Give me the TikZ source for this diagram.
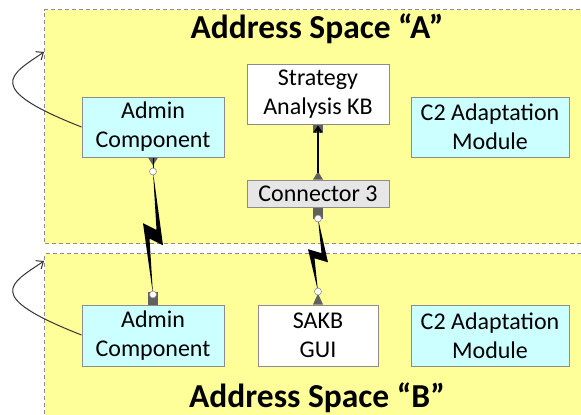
\documentclass[tikz,border=0pt]{standalone}
\usepackage{fontspec}
\setmainfont{Carlito}
\usetikzlibrary{calc,arrows.meta}

\definecolor{spaceyellow}{HTML}{FFFF99}
\definecolor{compcyan}{HTML}{CCFFFF}
\definecolor{conngray}{HTML}{E6E6E6}
\definecolor{portgray}{HTML}{606060}
\definecolor{edgegray}{HTML}{8C8C8C}

% lightning bolt between two port points
\newcommand{\bolt}[2]{%
    \fill[black] (#1) -- ($(#1)!0.6!(#2)+(10,0)$) -- ($(#1)!0.545!(#2)+(-3.5,0)$)
        -- (#2) -- ($(#1)!0.42!(#2)+(-10,0)$) -- ($(#1)!0.475!(#2)+(3.5,0)$) -- cycle;
}

\begin{document}
\begin{tikzpicture}[x=1pt, y=-1pt,
        box/.style={rectangle, draw=edgegray, line width=1pt, align=center, inner sep=0pt,
            font=\fontsize{24}{29}\selectfont},
        comp/.style={box, fill=compcyan},
        addrspace/.style={rectangle, draw=edgegray, line width=1pt, dash pattern=on 4pt off 3pt,
            fill=spaceyellow, anchor=north west},
        title/.style={anchor=base, font=\fontsize{33.5}{38}\selectfont\bfseries},
        dot/.style={circle, draw=edgegray, fill=white, line width=0.6pt, inner sep=0pt, minimum size=7pt},
        loop/.style={line width=1pt, draw=black!80, -{Straight Barb[length=6pt, width=10pt]}}]

    \useasboundingbox (0,0) rectangle (581,415);
    \clip (0,0) rectangle (581,415);

    \node[addrspace, minimum width=560pt, minimum height=234pt] (spaceA) at (44,9) {};
    \node[addrspace, minimum width=560pt, minimum height=180pt] (spaceB) at (44,253) {};

    \node[title] (titleA) at (317,38) {Address Space “A”};
    \node[title] (titleB) at (317,407) {Address Space “B”};

    \node[comp, minimum width=142pt, minimum height=60pt] (adminA) at (153,127) {Admin\\Component};
    \node[box, fill=white, minimum width=142pt, minimum height=60pt] (kb) at (318,94) {Strategy\\Analysis KB};
    \node[comp, minimum width=158pt, minimum height=60pt] (c2A) at (490,127) {C2 Adaptation\\Module};
    \node[box, fill=conngray, minimum width=142pt, minimum height=27pt] (conn3) at (318,193.5) {Connector 3};

    \node[comp, minimum width=142pt, minimum height=61pt] (adminB) at (153,335.5) {Admin\\Component};
    \node[box, fill=white, minimum width=120pt, minimum height=61pt] (gui) at (318,335.5) {SAKB\\GUI};
    \node[comp, minimum width=158pt, minimum height=61pt] (c2B) at (490,335.5) {C2 Adaptation\\Module};

    % ports
    \fill[portgray] ($(adminA.south)+(-5,0)$) -- ($(adminA.south)+(5,0)$) -- ($(adminA.south)+(0,8)$) -- cycle;
    \fill[portgray] ($(adminB.north)+(-5,0)$) rectangle ($(adminB.north)+(5,-13)$);
    \fill[portgray] ($(conn3.south)+(-5,0)$) rectangle ($(conn3.south)+(5,11)$);
    \fill[portgray] ($(gui.north)+(-5,0)$) -- ($(gui.north)+(5,0)$) -- ($(gui.north)+(0,-11)$) -- cycle;
    \fill[portgray] ($(conn3.north)+(-5,0)$) -- ($(conn3.north)+(5,0)$) -- ($(conn3.north)+(0,-8)$) -- cycle;
    \fill[portgray] ($(kb.south)+(-5,0.5)$) rectangle ($(kb.south)+(5,8)$);

    \coordinate (adminAport) at ($(adminA.south)+(0,14)$);
    \coordinate (adminBport) at ($(adminB.north)+(0,-10)$);
    \coordinate (conn3port) at ($(conn3.south)+(0,11)$);
    \coordinate (guiport) at ($(gui.north)+(0,-13)$);

    % connectors
    \draw[line width=0.8pt] (adminA.south) -- (adminAport);
    \bolt{adminAport}{adminBport}
    \bolt{conn3port}{guiport}
    \draw[line width=2pt, -{Straight Barb[length=5pt, width=7pt]}] ($(conn3.north)+(0,-7)$) -- ($(kb.south)+(0,1)$);

    \node[dot] at (adminAport) {};
    \node[dot] at (adminBport) {};
    \node[dot] at (conn3port) {};
    \node[dot] at (guiport) {};

    % self loops
    \coordinate (loopA) at ($(spaceA.north west)+(0,43)$);
    \coordinate (loopB) at ($(spaceB.north west)+(0,8)$);
    \draw[loop] (adminA.west) .. controls +(-99,-39) and +(-34,23) .. (loopA);
    \draw[loop] ($(adminB.west)+(0,-0.5)$) .. controls +(-99,-39) and +(-34,23) .. (loopB);
\end{tikzpicture}
\end{document}
